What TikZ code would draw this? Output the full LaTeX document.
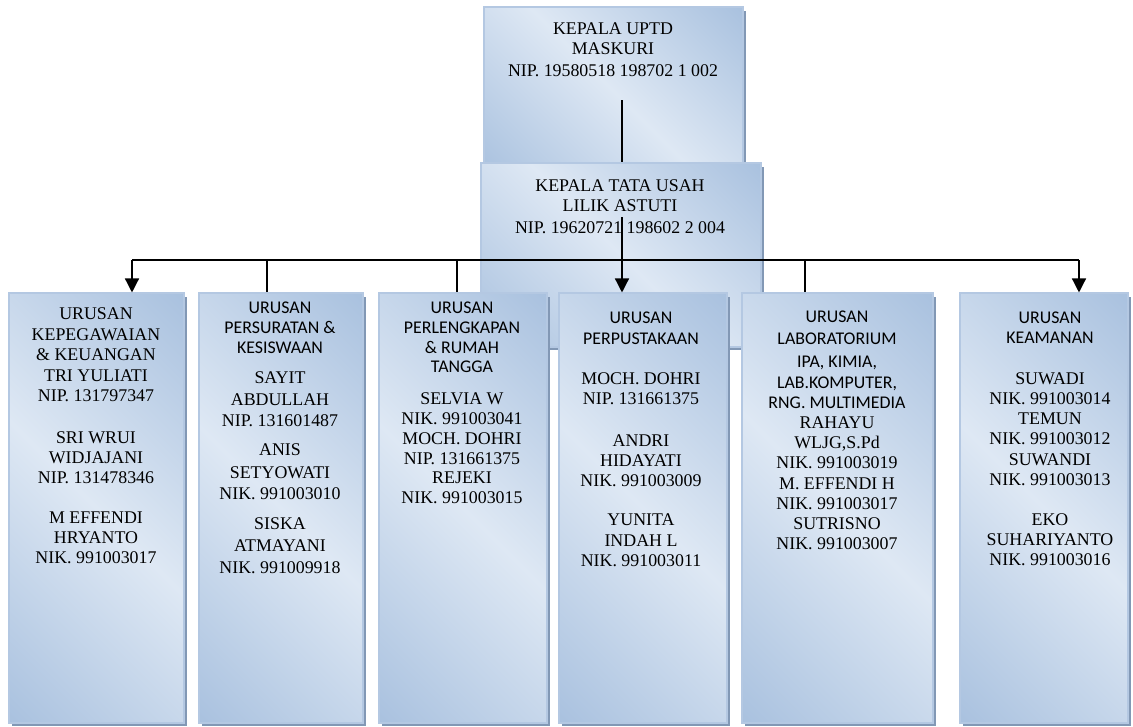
\documentclass[tikz,border=0pt]{standalone}
\usepackage{fontspec}
\setmainfont{Liberation Serif}
\newfontfamily\carl{Carlito}
\usetikzlibrary{arrows.meta,fit}
\definecolor{dk}{HTML}{93B1D6}
\definecolor{lt}{HTML}{DEE8F4}
\definecolor{bord}{HTML}{B4C8E2}
\definecolor{shad}{HTML}{8298B5}
\pgfdeclarehorizontalshading{wordgrad}{100bp}{color(0bp)=(dk); color(50bp)=(lt); color(100bp)=(dk)}
\newcommand\orgbox[5]{%
  \fill[shad] (#2+3,#3+4) rectangle (#4+3,#5+3);
  \node[orgbox, fit={(#2,#3) (#4,#5)}] (#1) {};}
\newcommand\boxlines[2]{%
  \foreach \yy/\tt [count=\i] in {#2} \node[txt] (#1-\i) at (\xx,\yy+6) {\tt};}
\begin{document}
\begin{tikzpicture}[x=0.75pt,y=-0.75pt,
  orgbox/.style={draw=bord, line width=0.8pt, shading=wordgrad, shading angle=45, inner sep=0pt},
  txt/.style={anchor=base, inner sep=0pt, font=\fontsize{13.4}{15}\selectfont},
  conn/.style={line width=1pt, draw=black},
  tip/.style={-{Triangle[width=10.5pt,length=10.5pt]}}]
\useasboundingbox (0,0) rectangle (1133,726);
% boxes
\orgbox{u}{484}{7}{743}{175}
\orgbox{t}{481}{163}{761}{347}
\orgbox{b1}{9}{293}{184}{723}
\orgbox{b2}{199}{293}{363}{723}
\orgbox{b3}{379}{293}{547}{723}
\orgbox{b4}{559}{293}{727}{723}
\orgbox{b5}{742}{293}{933}{723}
\orgbox{b6}{960}{293}{1128}{723}
% connectors
\coordinate (u1) at (622,100);
\coordinate (t1) at (622,217);
\coordinate (busL) at (132,260);
\coordinate (busR) at (1079,260);
\coordinate (d2) at (267,260);
\coordinate (d3) at (457,260);
\coordinate (d5) at (805,260);
\draw[conn] (u1) -- (t.north -| u1);
\draw[conn] (busL) -- (busR);
\draw[conn,tip] (t1) -- (b4.north -| t1);
\draw[conn,tip] (busL) -- (b1.north -| busL);
\draw[conn,tip] (busR) -- (b6.north -| busR);
\draw[conn] (d2) -- (b2.north -| d2);
\draw[conn] (d3) -- (b3.north -| d3);
\draw[conn] (d5) -- (b5.north -| d5);
% texts
\def\xx{613}
\boxlines{tu}{28/KEPALA UPTD, 48/MASKURI, 70/NIP. 19580518 198702 1 002}
\def\xx{620}
\boxlines{tt}{185/KEPALA TATA USAH, 205/LILIK ASTUTI, 227/NIP. 19620721 198602 2 004}
\def\xx{96}
\boxlines{l1}{313/URUSAN, 334/KEPEGAWAIAN, 354/\& KEUANGAN, 375/TRI YULIATI, 395/NIP. 131797347, 437/SRI WRUI, 457/WIDJAJANI, 477/NIP. 131478346, 517/M EFFENDI, 537/HRYANTO, 557/NIK. 991003017}
\def\xx{280}
\boxlines{l2}{307/{\carl URUSAN}, 327/{\carl PERSURATAN \&}, 347/{\carl KESISWAAN}, 377/SAYIT, 399/ABDULLAH, 420/NIP. 131601487, 449/ANIS, 472/SETYOWATI, 493/NIK. 991003010, 523/SISKA, 545/ATMAYANI, 567/NIK. 991009918}
\def\xx{462}
\boxlines{l3}{307/{\carl URUSAN}, 327/{\carl PERLENGKAPAN}, 347/{\carl \& RUMAH}, 366/{\carl TANGGA}, 398/SELVIA W, 418/NIK. 991003041, 438/MOCH. DOHRI, 458/NIP. 131661375, 477/REJEKI, 497/NIK. 991003015}
\def\xx{641}
\boxlines{l4}{317/{\carl URUSAN}, 338/{\carl PERPUSTAKAAN}, 378/MOCH. DOHRI, 398/NIP. 131661375, 440/ANDRI, 460/HIDAYATI, 480/NIK. 991003009, 519/YUNITA, 540/INDAH L, 560/NIK. 991003011}
\def\xx{837}
\boxlines{l5}{316/{\carl URUSAN}, 338/{\carl LABORATORIUM}, 361/{\carl IPA, KIMIA,}, 382/{\carl LAB.KOMPUTER,}, 402/{\carl RNG. MULTIMEDIA}, 422/RAHAYU, 442/{WLJG,S.Pd}, 462/NIK. 991003019, 483/M. EFFENDI H, 503/NIK. 991003017, 523/SUTRISNO, 543/NIK. 991003007}
\def\xx{1050}
\boxlines{l6}{317/{\carl URUSAN}, 337/{\carl KEAMANAN}, 378/SUWADI, 398/NIK. 991003014, 418/TEMUN, 438/NIK. 991003012, 459/SUWANDI, 479/NIK. 991003013, 519/EKO, 539/SUHARIYANTO, 559/NIK. 991003016}
\end{tikzpicture}
\end{document}
